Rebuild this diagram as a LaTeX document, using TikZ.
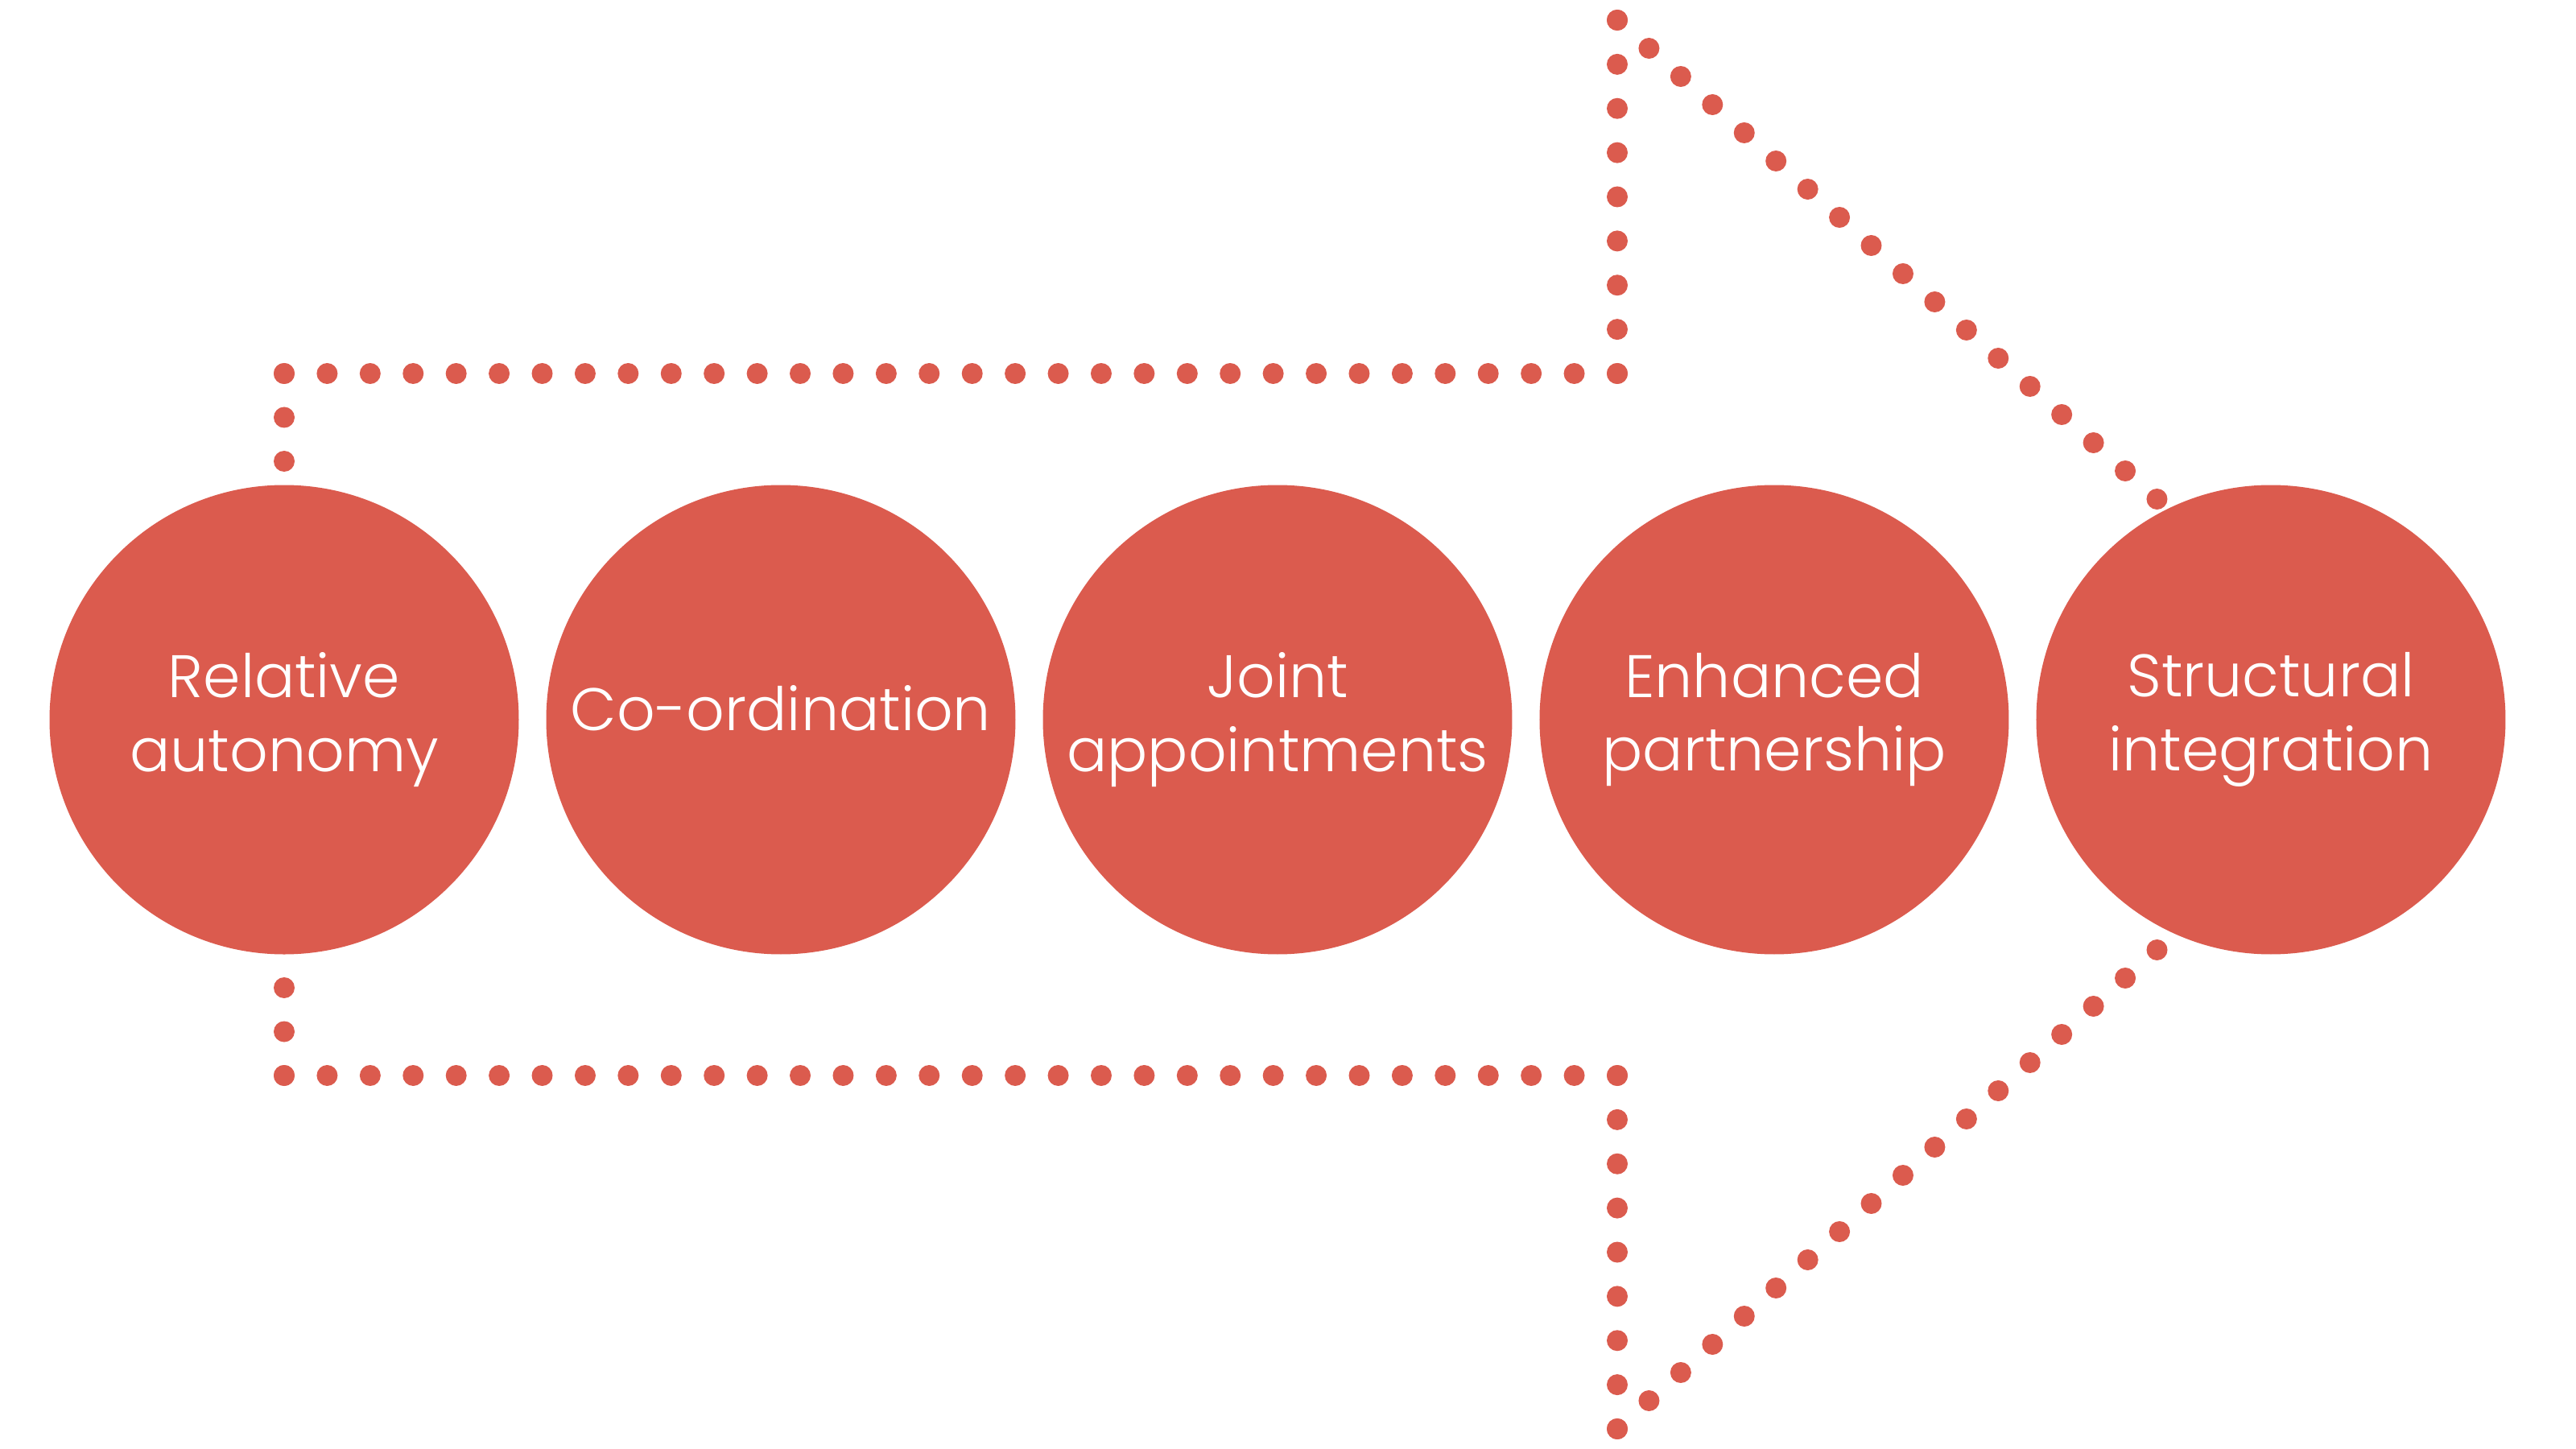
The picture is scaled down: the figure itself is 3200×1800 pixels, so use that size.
\documentclass[tikz,border=0pt]{standalone}
\usepackage{fontspec}
\setmainfont{Poppins}[UprightFont=* Light]
\definecolor{ciRed}{HTML}{DB5B4E}
\usetikzlibrary{positioning,calc}

\begin{document}
\begin{tikzpicture}[x=0.1mm,y=-0.1mm,
                    stage/.style={circle,fill=ciRed,text=white,align=center,
                                  minimum size=58.3mm,inner sep=0pt,outer sep=0pt,
                                  font=\fontsize{21.2}{26}\selectfont},
                    dot/.style={fill=ciRed}]
  \useasboundingbox (0,0) rectangle (3200,1800);
  % corners of the dotted arrow outline
  \coordinate (tl) at (353,464);
  \coordinate (tn) at (2009,464);
  \coordinate (tt) at (2009,25);
  \coordinate (tip) at (2995,900);
  \coordinate (bt) at (2009,1775);
  \coordinate (bn) at (2009,1336);
  \coordinate (bl) at (353,1336);
  % dots go first, so the circles cover them
  \foreach \from/\to/\n in {tl/tn/31,tn/tt/8,tt/tip/25,tip/bt/25,
                            bt/bn/8,bn/bl/31,bl/tl/16}
    \foreach \i in {0,...,\n}
      \fill[dot] ($(\from)!\i/\n!(\to)$) circle (1.3mm);
  \node[stage] (relauto) at (353,894) {Relative\\autonomy};
  % one line only: extra depth lifts it to the two-line baselines' middle
  \node[stage,text depth=3mm,right=3.4mm of relauto] (coord) {Co-ordination};
  \node[stage,right=3.4mm of coord] (joint) {Joint\\appointments};
  \node[stage,right=3.4mm of joint] (enhanced) {Enhanced\\partnership};
  \node[stage,right=3.4mm of enhanced] (structural) {Structural\\integration};
\end{tikzpicture}
\end{document}
